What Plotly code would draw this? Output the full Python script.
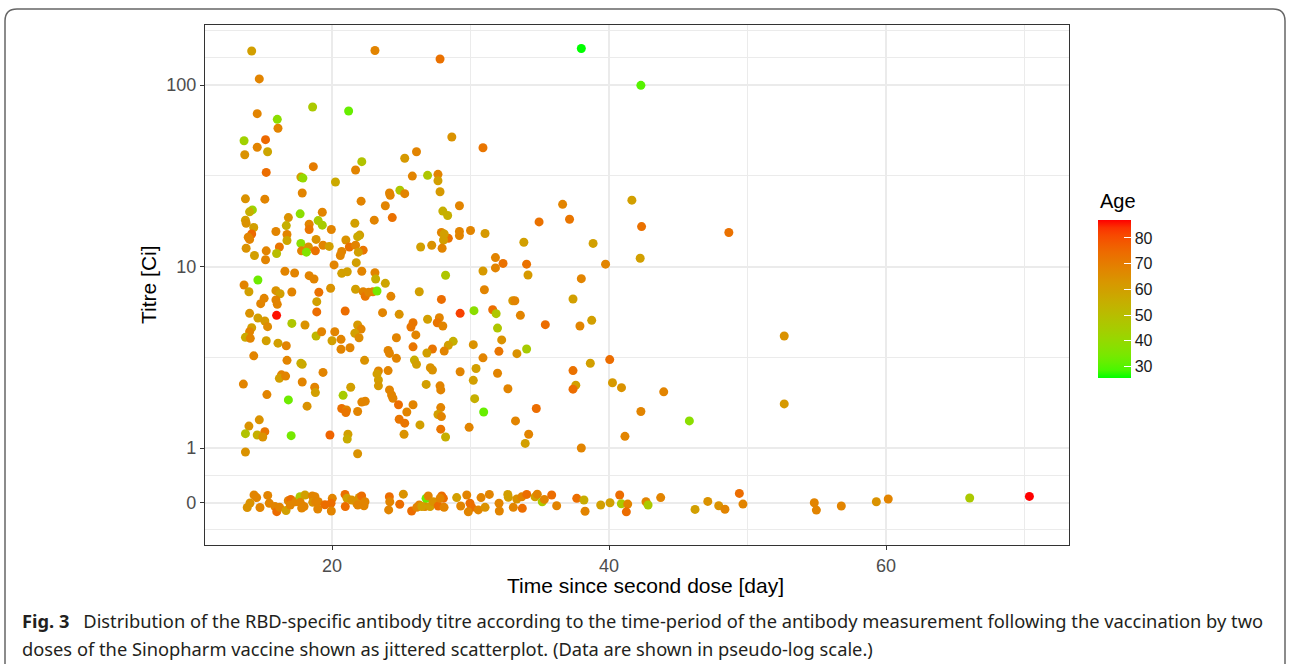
import plotly.graph_objects as go
import math

# ---------------- data ----------------
# Positive titres: day after second dose, titre [Ci], age
pos_day = [14.2, 23.1, 14.75, 18.6, 21.2, 14.6, 16.05, 16.1, 13.65, 15.2, 14.6, 15.35, 13.7, 22.15, 21.7, 25.25, 26.1,
           15.25, 18.65, 17.75, 17.9, 20.25, 25.8, 26.9, 13.75, 15.15, 17.85, 24.9, 24.15, 24.2, 25.25, 22.1, 27.65,
           27.65, 27.8, 27.8, 38.0, 28.65, 30.9, 42.3, 41.65, 23.85, 14.25, 14.05, 17.7, 19.3, 16.85, 13.75, 13.8,
           19.0, 19.3, 23.05, 24.35, 21.65, 16.7, 18.35, 18.35, 14.35, 19.95, 15.95, 16.75, 14.2, 13.95, 14.05, 22.0,
           21.85, 21.0, 16.75, 18.85, 17.75, 16.2, 18.3, 19.35, 19.8, 21.25, 21.7, 22.25, 13.8, 15.25, 18.8, 17.8,
           18.15, 16.0, 20.7, 20.6, 21.9, 14.4, 15.2, 26.4, 21.75, 20.15, 16.6, 17.3, 18.35, 18.7, 20.7, 21.1, 22.15,
           23.1, 23.15, 23.85, 14.65, 13.65, 14.0, 19.9, 21.7, 19.05, 17.1, 15.95, 16.25, 15.1, 14.85, 15.95, 16.05,
           22.25, 22.4, 22.65, 22.95, 23.25, 24.25, 26.3, 18.9, 18.9, 20.95, 16.0, 14.05, 14.65, 15.15, 15.35, 17.1,
           18.05, 23.65, 24.85, 25.85, 25.7, 14.2, 14.05, 13.75, 14.1, 15.25, 16.1, 16.7, 18.85, 19.25, 20.2, 20.0,
           20.65, 21.85, 22.1, 21.65, 21.95, 20.65, 21.3, 24.65, 26.05, 25.85, 24.05, 24.15, 24.65, 25.95, 26.1,
           14.35, 16.75, 17.75, 17.85, 22.35, 19.35, 16.35, 23.35, 24.05, 13.6, 16.2, 16.65, 17.85, 18.75, 18.8,
           15.3, 16.85, 18.2, 20.8, 21.35, 23.25, 23.35, 23.35, 24.15, 24.3, 24.4, 22.15, 22.4, 24.8, 25.85, 20.7,
           21.05, 21.0, 21.85, 25.4, 24.85, 25.25, 26.35, 14.75, 14.0, 13.75, 14.6, 15.15, 15.0, 17.05, 19.85, 21.15,
           21.1, 25.2, 13.75, 21.85, 29.2, 28.0, 28.35, 36.65, 34.95, 37.15, 27.9, 28.4, 28.1, 28.05, 27.95, 29.2,
           29.2, 30.0, 31.05, 27.2, 33.85, 38.85, 31.8, 31.8, 32.35, 34.05, 39.75, 28.2, 30.9, 34.15, 38.0, 31.0,
           27.9, 33.05, 33.2, 37.4, 29.25, 30.25, 31.6, 31.85, 26.9, 27.75, 27.6, 28.0, 31.95, 33.6, 35.4, 37.9,
           38.75, 28.75, 28.4, 28.1, 27.25, 26.85, 30.2, 32.25, 32.05, 33.35, 34.05, 30.9, 27.1, 27.25, 30.4, 29.25,
           31.95, 37.4, 38.65, 40.05, 26.8, 30.2, 27.8, 27.85, 32.7, 37.6, 37.4, 40.25, 40.9, 30.3, 27.85, 27.65,
           27.9, 30.95, 34.75, 27.85, 29.9, 28.2, 33.25, 34.2, 33.95, 38.0, 42.35, 48.65, 42.25, 52.65, 43.95, 42.3,
           45.8, 41.15, 52.65]
pos_titre = [154, 155, 108, 75.7, 71.9, 69.5, 64.7, 57.8, 49.3, 50.0, 45.4, 42.9, 41.3, 37.8, 34.0, 39.5, 42.9,
             33.0, 35.5, 31.1, 30.7, 29.2, 31.5, 31.8, 23.6, 23.5, 25.4, 26.3, 25.4, 24.7, 25.2, 22.9, 32.2,
             29.7, 25.8, 139, 159, 51.7, 45.1, 99.6, 23.2, 21.6, 20.5, 20.0, 19.5, 19.9, 18.6, 18.0, 17.3,
             17.9, 16.9, 18.0, 18.6, 17.3, 16.8, 17.1, 16.0, 16.4, 16.0, 15.6, 15.0, 15.1, 14.5, 14.1, 14.9,
             14.6, 14.0, 13.9, 14.1, 13.4, 12.8, 12.8, 13.1, 12.9, 12.8, 13.1, 12.3, 12.6, 12.2, 12.2, 12.2,
             12.0, 11.8, 12.1, 11.5, 12.0, 11.5, 10.9, 12.8, 10.5, 10.2, 9.41, 9.21, 8.90, 8.53, 9.17, 9.36, 9.41,
             9.25, 8.53, 8.08, 8.43, 7.91, 7.26, 7.59, 7.49, 7.21, 7.24, 7.36, 7.08, 6.68, 6.24, 6.54, 6.19,
             7.26, 6.85, 7.21, 7.26, 7.33, 6.85, 7.26, 6.40, 5.62, 5.69, 5.38, 5.52, 5.20, 5.01, 4.66, 4.86,
             4.76, 5.57, 5.45, 4.90, 4.64, 4.60, 4.37, 4.07, 4.02, 3.90, 3.78, 3.66, 4.14, 4.37, 4.37, 3.90,
             3.97, 4.76, 4.52, 4.29, 4.05, 3.50, 3.57, 4.05, 4.20, 3.61, 3.45, 3.32, 3.12, 3.05, 2.89,
             3.22, 3.04, 2.93, 2.89, 3.04, 2.61, 2.53, 2.66, 2.67, 2.25, 2.42, 2.49, 2.31, 2.16, 2.02,
             1.97, 1.84, 1.70, 1.95, 2.16, 2.56, 2.37, 2.20, 2.09, 1.96, 1.88, 1.79, 1.81, 1.73, 1.73, 1.65,
             1.62, 1.57, 1.59, 1.58, 1.44, 1.37, 1.34, 1.43, 1.32, 1.20, 1.18, 1.23, 1.15, 1.17, 1.18, 1.19,
             1.12, 1.19, 0.95, 0.93, 21.6, 20.2, 19.1, 22.0, 17.6, 18.2, 15.4, 14.3, 15.1, 14.0, 12.6, 15.6,
             14.8, 15.8, 15.2, 13.1, 13.6, 13.4, 11.2, 9.82, 10.4, 10.3, 10.3, 8.95, 9.44, 8.98, 8.57, 7.45,
             6.59, 6.48, 6.48, 6.62, 5.52, 5.71, 5.78, 5.50, 5.12, 5.22, 4.90, 4.70, 4.58, 5.38, 4.78, 4.70,
             5.05, 3.87, 3.68, 3.42, 3.51, 3.34, 3.71, 3.94, 3.41, 3.31, 3.51, 3.14, 2.77, 2.69, 2.74, 2.63,
             2.58, 2.67, 2.93, 3.07, 2.24, 2.36, 2.20, 2.09, 2.12, 2.22, 2.11, 2.29, 2.15, 1.87, 1.67, 1.53,
             1.49, 1.58, 1.65, 1.27, 1.30, 1.15, 1.41, 1.19, 1.06, 1.00, 16.6, 15.4, 11.1, 4.14, 2.04, 1.59,
             1.41, 1.16, 1.75]
pos_age = [60, 68, 68, 46, 32, 68, 38, 68, 43, 75, 68, 58, 64, 48, 68, 62, 68,
           74, 70, 60, 40, 57, 68, 47, 64, 68, 68, 47, 68, 68, 68, 68, 68,
           60, 62, 73, 25.5, 64, 72, 30, 60, 68, 42, 55, 38, 68, 64, 60, 64,
           45, 45, 68, 73, 60, 55, 68, 72, 60, 68, 68, 68, 75, 68, 68, 60,
           57, 64, 58, 64, 38, 72, 64, 68, 60, 73, 68, 72, 64, 68, 73, 68,
           36, 50, 68, 68, 60, 60, 68, 60, 60, 68, 68, 68, 68, 68, 60, 60, 68,
           68, 55, 58, 33, 68, 60, 64, 60, 73, 68, 64, 60, 68, 68, 68, 68,
           68, 72, 68, 68, 34, 68, 60, 60, 74, 74, 86, 64, 60, 62, 66, 47,
           64, 68, 64, 72, 72, 60, 68, 57, 68, 60, 60, 68, 52, 68, 68, 60,
           68, 62, 68, 60, 66, 68, 68, 68, 68, 72, 68, 68, 68, 56, 60,
           68, 68, 55, 57, 64, 68, 68, 68, 68, 68, 60, 68, 68, 68, 60,
           68, 33, 64, 45, 60, 60, 60, 62, 68, 68, 68, 68, 68, 74, 68, 73,
           68, 72, 68, 68, 72, 72, 60, 64, 64, 48, 55, 72, 64, 34, 76, 60,
           56, 64, 64, 64, 68, 55, 55, 68, 73, 72, 68, 73, 60, 60, 68, 68,
           68, 68, 62, 64, 60, 60, 68, 68, 73, 73, 68, 47, 62, 62, 68, 68,
           74, 62, 68, 60, 82, 38, 74, 47, 60, 68, 72, 68, 47, 68, 74, 68,
           60, 55, 60, 68, 72, 60, 64, 64, 72, 64, 45, 68, 64, 64, 60, 68,
           68, 73, 60, 74, 60, 60, 68, 68, 68, 60, 74, 62, 64, 55, 68, 60,
           68, 32, 74, 72, 68, 55, 68, 68, 60, 68, 73, 73, 60, 64, 68, 68,
           38, 68, 62]

# Titre 0 (shown jittered around the "0" break): day, displayed jitter value, age
zero_day = [14.37, 14.08, 13.88, 14.56, 14.8, 15.36, 15.47, 15.88, 16.01, 16.22, 16.68, 16.84, 17.02, 16.99,
            17.38, 17.69, 17.71, 18.05, 17.98, 17.81, 18.58, 18.77, 18.61, 18.82, 19.01, 18.97, 19.49, 20.02,
            19.93, 19.95, 20.94, 21.08, 20.96, 21.42, 21.78, 21.97, 22.14, 21.86, 22.31, 22.38, 24.14, 24.17,
            24.09, 24.89, 25.15, 25.75, 26.12, 26.3, 26.71, 26.79, 26.95, 26.48, 27.08, 27.31, 27.67, 27.92,
            28.04, 27.8, 28.09, 29.0, 29.73, 29.29, 29.96, 30.09, 29.84, 30.56, 30.76, 31.05, 31.36, 32.06,
            32.08, 32.69, 32.73, 33.09, 33.34, 33.7, 33.74, 34.06, 34.66, 34.82, 35.18, 35.33, 35.86, 36.22,
            37.67, 38.19, 38.27, 39.4, 40.07, 40.77, 40.89, 41.35, 41.25, 42.67, 42.82, 43.73, 46.21, 47.13,
            47.92, 48.37, 49.41, 49.67, 54.82, 54.97, 56.77, 59.3, 60.16, 66.04, 70.35]
zero_titre = [0.551, 0.498, 0.470, 0.533, 0.470, 0.548, 0.496, 0.476, 0.446, 0.471, 0.452, 0.512, 0.521, 0.485,
              0.506, 0.539, 0.502, 0.551, 0.476, 0.467, 0.544, 0.539, 0.502, 0.506, 0.506, 0.461, 0.487, 0.528,
              0.496, 0.450, 0.555, 0.528, 0.476, 0.517, 0.496, 0.534, 0.544, 0.485, 0.481, 0.506, 0.539, 0.506,
              0.456, 0.490, 0.557, 0.450, 0.471, 0.485, 0.476, 0.528, 0.544, 0.476, 0.476, 0.506, 0.479, 0.544,
              0.528, 0.528, 0.471, 0.533, 0.551, 0.479, 0.496, 0.471, 0.445, 0.456, 0.533, 0.471, 0.555, 0.496,
              0.450, 0.555, 0.535, 0.471, 0.524, 0.538, 0.465, 0.555, 0.538, 0.557, 0.506, 0.521, 0.551, 0.481,
              0.528, 0.517, 0.448, 0.485, 0.499, 0.551, 0.493, 0.491, 0.445, 0.506, 0.485, 0.533, 0.459, 0.508,
              0.481, 0.460, 0.562, 0.491, 0.499, 0.455, 0.479, 0.506, 0.524, 0.530, 0.541]
zero_age = [68, 64, 64, 68, 68, 68, 68, 68, 74, 68, 60, 68, 74, 68,
            68, 46, 68, 60, 68, 68, 68, 68, 64, 68, 68, 68, 74, 68,
            74, 68, 74, 60, 74, 64, 64, 64, 74, 68, 68, 68, 74, 68,
            68, 74, 64, 74, 68, 68, 68, 32, 68, 60, 60, 64, 74, 74,
            74, 68, 68, 60, 68, 68, 74, 74, 68, 68, 68, 64, 68, 68,
            68, 60, 60, 68, 64, 68, 74, 74, 60, 68, 46, 68, 74, 68,
            74, 56, 68, 60, 60, 74, 46, 68, 74, 68, 46, 68, 60, 64,
            64, 68, 74, 68, 68, 68, 68, 64, 68, 46, 87]

y_break_vals = [0.5, 1, 10, 100]
y_break_text = ["0", "1", "10", "100"]
x_break_vals = [20, 40, 60]
age_ticks = [30, 40, 50, 60, 70, 80]

# ---------------- colour scale: green -> red interpolated in CIELAB ----------------
WHITE = (0.95047, 1.0, 1.08883)


def _lin(c):
    return c / 12.92 if c <= 0.04045 else ((c + 0.055) / 1.055) ** 2.4


def _gam(c):
    c = max(0.0, min(1.0, c))
    return 12.92 * c if c <= 0.0031308 else 1.055 * c ** (1 / 2.4) - 0.055


def rgb2lab(r, g, b):
    r, g, b = _lin(r), _lin(g), _lin(b)
    X = 0.4124564 * r + 0.3575761 * g + 0.1804375 * b
    Y = 0.2126729 * r + 0.7151522 * g + 0.0721750 * b
    Z = 0.0193339 * r + 0.1191920 * g + 0.9503041 * b
    def f(t):
        return t ** (1 / 3) if t > 0.008856 else 7.787 * t + 16 / 116
    fx, fy, fz = f(X / WHITE[0]), f(Y / WHITE[1]), f(Z / WHITE[2])
    return 116 * fy - 16, 500 * (fx - fy), 200 * (fy - fz)


def lab2rgb(L, a, b):
    fy = (L + 16) / 116
    fx = fy + a / 500
    fz = fy - b / 200
    def fi(t):
        return t ** 3 if t ** 3 > 0.008856 else (t - 16 / 116) / 7.787
    X, Y, Z = fi(fx) * WHITE[0], fi(fy) * WHITE[1], fi(fz) * WHITE[2]
    r = 3.2404542 * X - 1.5371385 * Y - 0.4985314 * Z
    g = -0.9692660 * X + 1.8760108 * Y + 0.0415560 * Z
    bb = 0.0556434 * X - 0.2040259 * Y + 1.0572252 * Z
    return tuple(int(round(_gam(c) * 255)) for c in (r, g, bb))


lo, hi = rgb2lab(0, 1, 0), rgb2lab(1, 0, 0)
colorscale = []
N = 20
for i in range(N + 1):
    t = i / N
    lab = [lo[k] + (hi[k] - lo[k]) * t for k in range(3)]
    colorscale.append([t, "rgb(%d,%d,%d)" % lab2rgb(*lab)])

# ---------------- geometry ----------------
W, H = 1290, 664
ML, MR, MT, MB = 205, 221, 25, 119
PW, PH = W - ML - MR, H - MT - MB


def px(xpix):
    return (xpix - ML) / PW


def py(ypix):
    return (H - MB - ypix) / PH


days = pos_day + zero_day
titres = pos_titre + zero_titre
ages = pos_age + zero_age
cmin, cmax = min(ages), max(ages)

CB_LEFT, CB_TOP, CB_LEN, CB_THICK = 1098, 220, 158, 33

fig = go.Figure()
fig.add_trace(go.Scatter(
    x=days, y=titres, mode="markers", hoverinfo="skip",
    marker=dict(size=9, color=ages, colorscale=colorscale, cmin=cmin, cmax=cmax,
                line=dict(width=0), opacity=1,
                colorbar=dict(x=px(CB_LEFT), xanchor="left", xpad=0,
                              y=py(CB_TOP + CB_LEN / 2), yanchor="middle", ypad=0,
                              lenmode="pixels", len=CB_LEN, thickness=CB_THICK,
                              outlinewidth=0, tickvals=age_ticks, ticks="inside",
                              ticklen=7, tickcolor="white", tickwidth=1,
                              tickprefix="\u2002",
                              tickfont=dict(family="Liberation Sans, Arial", size=16, color="#1A1A1A"))),
    showlegend=False))

axis_font = dict(family="Liberation Sans, Arial", size=18, color="#4D4D4D")
fig.update_xaxes(range=[10.83, 73.21], tickmode="array", tickvals=x_break_vals,
                 showgrid=True, gridcolor="#EBEBEB", gridwidth=1.6, zeroline=False,
                 minor=dict(tickmode="array", tickvals=[30, 50, 70], showgrid=True,
                            gridcolor="#EBEBEB", gridwidth=0.8, ticks=""),
                 showline=True, mirror=True, linecolor="#333333", linewidth=1.3,
                 ticks="outside", ticklen=4, tickcolor="#333333", tickwidth=1,
                 tickfont=axis_font)
fig.update_yaxes(type="log", range=[-0.5344, 2.3306], tickmode="array",
                 tickvals=y_break_vals, ticktext=y_break_text,
                 showgrid=True, gridcolor="#EBEBEB", gridwidth=1.6, zeroline=False,
                 minor=dict(tickmode="array",
                            tickvals=[0.5 / math.sqrt(2), math.sqrt(0.5), math.sqrt(10),
                                      math.sqrt(1000), 100 * math.sqrt(2), 200],
                            showgrid=True, gridcolor="#EBEBEB", gridwidth=0.8, ticks=""),
                 showline=True, mirror=True, linecolor="#333333", linewidth=1.3,
                 ticks="outside", ticklen=4, tickcolor="#333333", tickwidth=1,
                 tickfont=axis_font)

# colourbar ticks on the left side of the bar (ggplot draws both sides)
shapes = []
for v in age_ticks:
    ypix = CB_TOP + CB_LEN - (v - cmin) / (cmax - cmin) * CB_LEN
    shapes.append(dict(type="line", xref="paper", yref="paper",
                       x0=px(CB_LEFT), x1=px(CB_LEFT + 7), y0=py(ypix), y1=py(ypix),
                       line=dict(color="white", width=1)))

# outer frame of the figure (rounded top corners)
r = 12
path = ("M {a},{b0} L {a},{b1} Q {a},{bt} {a2},{bt} L {c2},{bt} Q {c},{bt} {c},{b1} L {c},{b0}").format(
    a=px(5), a2=px(5 + r), c=px(1285), c2=px(1285 - r),
    b0=py(H + 5), b1=py(9 + r), bt=py(9))
shapes.append(dict(type="path", xref="paper", yref="paper", path=path,
                   line=dict(color="#666666", width=1.5)))

title_font = dict(family="Liberation Sans, Arial", size=21, color="#000000")
cap_font = dict(family="Noto Sans, Open Sans", size=18.3, color="#231F20")
annotations = [
    dict(text="Time since second dose [day]", x=px(645), y=py(585), xref="paper", yref="paper",
         showarrow=False, xanchor="center", yanchor="middle", font=title_font),
    dict(text="Titre [Ci]", x=px(148), y=py(285), xref="paper", yref="paper", textangle=-90,
         showarrow=False, xanchor="center", yanchor="middle", font=title_font),
    dict(text="Age", x=px(CB_LEFT), y=py(201), xref="paper", yref="paper",
         showarrow=False, xanchor="left", yanchor="middle",
         font=dict(family="Liberation Sans, Arial", size=20, color="#000000")),
    dict(text="<b>Fig. 3</b>\u2002 Distribution of the RBD-specific antibody titre according to the time-period of the "
              "antibody measurement following the vaccination by two",
         x=px(20), y=py(620), xref="paper", yref="paper", showarrow=False,
         xanchor="left", yanchor="middle", font=cap_font),
    dict(text="doses of the Sinopharm vaccine shown as jittered scatterplot. (Data are shown in pseudo-log scale.)",
         x=px(20), y=py(648), xref="paper", yref="paper", showarrow=False,
         xanchor="left", yanchor="middle", font=cap_font),
]

fig.update_layout(width=W, height=H, margin=dict(l=ML, r=MR, t=MT, b=MB, autoexpand=False),
                  paper_bgcolor="white", plot_bgcolor="white",
                  shapes=shapes, annotations=annotations, showlegend=False)

fig.write_html("out.html", config={"displayModeBar": False},
               post_script="document.body.style.margin='0px';document.body.style.overflow='hidden';")
